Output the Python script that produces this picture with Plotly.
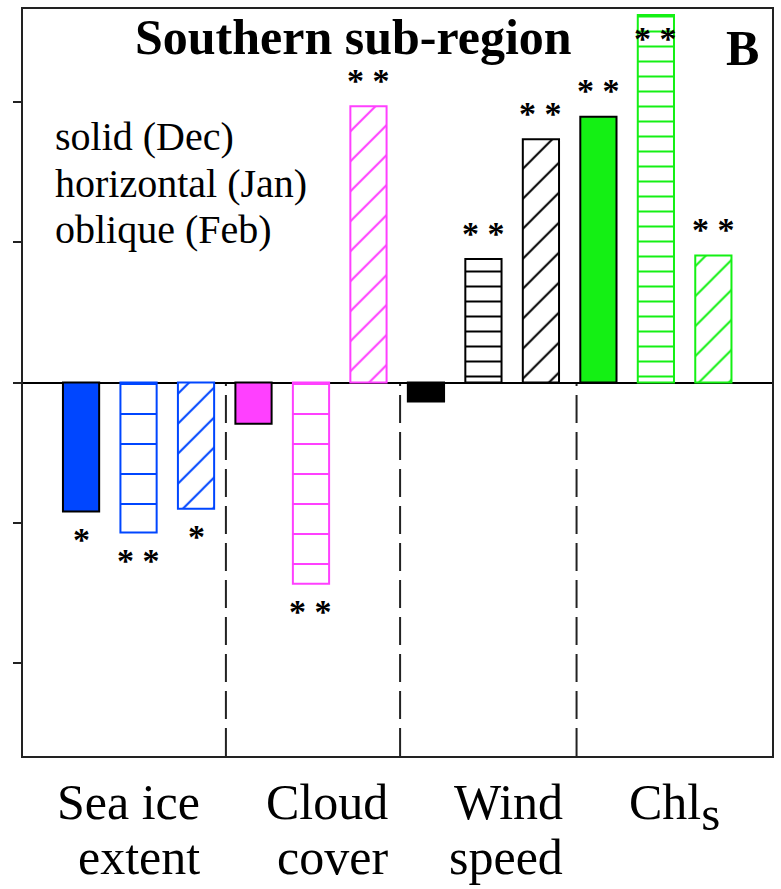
import plotly.graph_objects as go

# Correlation of each variable with the three summer months
variables = ["Sea ice extent", "Cloud cover", "Wind speed", "Chl_s"]
dec_values = [-0.184, -0.059, -0.027, 0.379]
jan_values = [-0.214, -0.287, 0.176, 0.524]
feb_values = [-0.180, 0.394, 0.347, 0.181]

# significance marks (* p<0.05, ** p<0.01)
dec_sig = ["*", "", "", "**"]
jan_sig = ["**", "**", "**", "**"]
feb_sig = ["*", "**", "**", "**"]

# category labels drawn under the axis (one or two lines each)
label_lines = [["Sea ice", "extent"], ["Cloud", "cover"], ["Wind", "speed"],
               ["Chl<sub><span style='font-size:140%'>s</span></sub>"]]
legend_lines = ["solid (Dec)", "horizontal (Jan)", "oblique (Feb)"]

colors = ["#0046FF", "#FF40FF", "#000000", "#14F014"]
hbar_spacing = [30, 30, 15, 15]

Y_MAX = 0.5327
X_RANGE = [-1.01, 12.02]
BAR_W = 0.63
SERIF = "Liberation Serif"
INK = "#000000"

n = len(variables)
x_dec = [3 * i for i in range(n)]
x_jan = [3 * i + 1 for i in range(n)]
x_feb = [3 * i + 2 for i in range(n)]

fig = go.Figure()

fig.add_trace(go.Bar(
    x=x_dec, y=dec_values, width=BAR_W, name="Dec",
    marker=dict(color=colors, line=dict(color="black", width=2)),
))
fig.add_trace(go.Bar(
    x=x_jan, y=jan_values, width=BAR_W, name="Jan",
    marker=dict(
        color="white", line=dict(color=colors, width=2),
        pattern=dict(shape="-", fgcolor=colors, bgcolor="white",
                     size=hbar_spacing, solidity=[2.0 / s for s in hbar_spacing],
                     fillmode="replace"),
    ),
))
fig.add_trace(go.Bar(
    x=x_feb, y=feb_values, width=BAR_W, name="Feb",
    marker=dict(
        color="white", line=dict(color=colors, width=2),
        pattern=dict(shape="/", fgcolor=colors, bgcolor="white",
                     size=21.2, solidity=0.095, fillmode="replace"),
    ),
))

# dashed separators between the variable groups (below zero only)
for xs in [2.52, 5.55, 8.62]:
    fig.add_shape(type="line", xref="x", yref="y", x0=xs, x1=xs, y0=-Y_MAX, y1=0,
                  line=dict(color="#222222", width=2, dash="28px,9px"), layer="below")

annotations = []

# in-plot key for the fill styles
for k, line in enumerate(legend_lines):
    centre = 148 + 47 * k - 0.338 * 40
    annotations.append(dict(
        x=0.04, y=(756 - centre) / 749, xref="paper", yref="paper", showarrow=False,
        text=line, xanchor="left", yanchor="middle",
        font=dict(family=SERIF, size=40, color=INK),
    ))

# category labels, right-aligned under each group
label_right = [0.239, 0.49, 0.7236, 0.933]
for xr, lines in zip(label_right, label_lines):
    for k, line in enumerate(lines):
        top = 817 + 55 * k - 0.891 * 50
        annotations.append(dict(
            x=xr, y=(756 - top) / 749, xref="paper", yref="paper", showarrow=False,
            text=line, xanchor="right", yanchor="top",
            font=dict(family=SERIF, size=50, color=INK),
        ))

# title and panel letter
annotations.append(dict(
    x=0.4406, y=0.963, xref="paper", yref="paper", showarrow=False,
    text="<b>Southern sub-region</b>", xanchor="center", yanchor="middle",
    font=dict(family=SERIF, size=50, color=INK),
))
annotations.append(dict(
    x=0.96, y=0.948, xref="paper", yref="paper", showarrow=False,
    text="<b>B</b>", xanchor="center", yanchor="middle",
    font=dict(family=SERIF, size=50, color=INK),
))

# significance stars next to bar ends
STAR_GAP = 27   # px between bar end and star centre
STAR_LIFT = 1   # asterisk glyph offset from the text box centre
px_per_unit = 749 / (2 * Y_MAX)
for xs, vals, sigs in [(x_dec, dec_values, dec_sig), (x_jan, jan_values, jan_sig),
                       (x_feb, feb_values, feb_sig)]:
    for x, v, s in zip(xs, vals, sigs):
        if not s:
            continue
        if v >= 0:
            if v + (STAR_GAP + 8) / px_per_unit > Y_MAX:
                shift = -22 - STAR_LIFT
            else:
                shift = STAR_GAP - STAR_LIFT
        else:
            shift = -STAR_GAP - STAR_LIFT
        annotations.append(dict(
            x=x, y=v, xref="x", yref="y", text="<b>" + " ".join(s) + "</b>",
            showarrow=False, xanchor="center", yanchor="middle", yshift=shift,
            font=dict(family=SERIF, size=34, color=INK),
        ))

fig.update_layout(
    width=781, height=889,
    margin=dict(l=23, r=9, t=7, b=133),
    paper_bgcolor="white", plot_bgcolor="white",
    barmode="overlay", showlegend=False,
    annotations=annotations,
    xaxis=dict(range=X_RANGE, showgrid=False, zeroline=False, showticklabels=False,
               ticks="", showline=True, linecolor="#222222", linewidth=2, mirror=True),
    yaxis=dict(range=[-Y_MAX, Y_MAX], showgrid=False, showticklabels=False,
               tickvals=[-0.4, -0.2, 0, 0.2, 0.4], ticks="outside", ticklen=8,
               tickwidth=2, tickcolor="#222222",
               zeroline=True, zerolinecolor="black", zerolinewidth=2,
               showline=True, linecolor="#222222", linewidth=2, mirror=True),
)

fig.write_html("out.html")
